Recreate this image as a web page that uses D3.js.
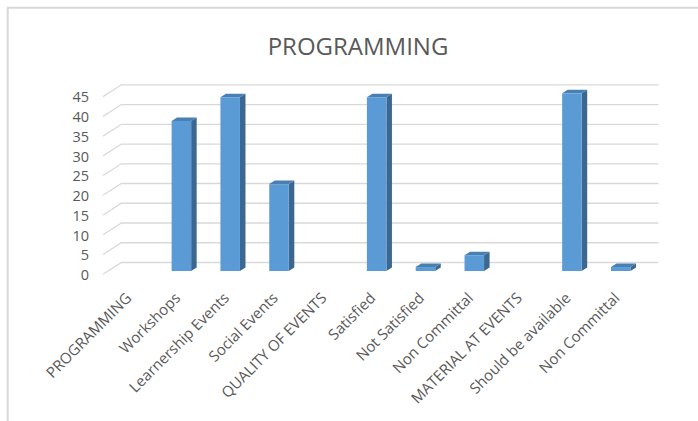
<!DOCTYPE html>
<html>
<head>
<meta charset="utf-8">
<script src="https://cdn.jsdelivr.net/npm/d3@7"></script>
<style>
  html, body { margin: 0; padding: 0; background: #fff; }
  svg { display: block; }
  text { font-family: "Open Sans", "Noto Sans", sans-serif; fill: #595959; }
</style>
</head>
<body>
<div id="chart"></div>
<script>
(function() {
    "use strict";

    // chart data
    var categories = [
        "PROGRAMMING", "Workshops", "Learnership Events", "Social Events",
        "QUALITY OF EVENTS", "Satisfied", "Not Satisfied", "Non Committal",
        "MATERIAL AT EVENTS", "Should be available", "Non Committal "
    ];
    var values = [null, 38, 44, 22, null, 44, 1, 4, null, 45, 1];
    var yTicks = [0, 5, 10, 15, 20, 25, 30, 35, 40, 45];
    var title = "PROGRAMMING";

    var width = 698, height = 421;

    // 3D wall depth offset
    var depthX = 18.4, depthY = -11.8;
    var barFront = 0.28, barBack = 0.58;

    var svg = d3.select("#chart").append("svg")
        .attr("width", width)
        .attr("height", height);

    // chart border
    svg.append("path")
        .attr("d", "M7.7,421 L7.7,7.7 L698,7.7")
        .attr("fill", "none")
        .attr("stroke", "#d9d9d9")
        .attr("stroke-width", 2);

    var x = d3.scaleBand()
        .domain(d3.range(categories.length))
        .range([103, 640])
        .paddingInner(0.6)
        .paddingOuter(0.3);

    var y = d3.scaleLinear()
        .domain([0, 45])
        .range([274.3, 96.6]);

    // gridlines: side wall diagonal + back wall horizontal
    var grid = svg.append("g").attr("class", "grid");
    grid.selectAll("path")
        .data(yTicks)
        .join("path")
        .attr("fill", "none")
        .attr("stroke", "#d9d9d9")
        .attr("stroke-width", 1.3)
        .attr("d", function(d) {
            var fy = y(d);
            return "M103," + fy + " L" + (103 + depthX) + "," + (fy + depthY) +
                " L" + (640 + depthX) + "," + (fy + depthY);
        });

    // y axis labels
    svg.append("g")
        .selectAll("text")
        .data(yTicks)
        .join("text")
        .attr("x", 89)
        .attr("y", function(d) { return y(d); })
        .attr("dy", "0.4em")
        .attr("text-anchor", "end")
        .style("font-size", "14.5px")
        .text(function(d) { return d; });

    // bars
    var bw = x.bandwidth();
    var fdx = barFront * depthX, fdy = barFront * depthY;
    var bdx = (barBack - barFront) * depthX, bdy = (barBack - barFront) * depthY;

    var barData = values.map(function(v, i) { return { i: i, v: v }; })
        .filter(function(d) { return d.v != null; });

    var bars = svg.append("g").attr("class", "bars")
        .selectAll("g")
        .data(barData)
        .join("g");

    bars.append("path")
        .attr("fill", "#3b6790")
        .attr("d", function(d) {
            var x1 = x(d.i) + fdx + bw, y0 = y(0) + fdy, y1 = y(d.v) + fdy;
            return "M" + x1 + "," + y0 + " L" + x1 + "," + y1 +
                " L" + (x1 + bdx) + "," + (y1 + bdy) + " L" + (x1 + bdx) + "," + (y0 + bdy) + "Z";
        });

    bars.append("path")
        .attr("fill", "#4a7fb4")
        .attr("d", function(d) {
            var x0 = x(d.i) + fdx, x1 = x0 + bw, y1 = y(d.v) + fdy;
            return "M" + x0 + "," + y1 + " L" + x1 + "," + y1 +
                " L" + (x1 + bdx) + "," + (y1 + bdy) + " L" + (x0 + bdx) + "," + (y1 + bdy) + "Z";
        });

    bars.append("rect")
        .attr("fill", "#5b9bd5")
        .attr("x", function(d) { return x(d.i) + fdx; })
        .attr("y", function(d) { return y(d.v) + fdy; })
        .attr("width", bw)
        .attr("height", function(d) { return y(0) - y(d.v); });

    // category labels, rotated
    svg.append("g")
        .selectAll("text")
        .data(categories)
        .join("text")
        .attr("text-anchor", "end")
        .attr("transform", function(d, i) {
            var cx = x(i) + bw / 2 + 5;
            return "translate(" + cx + ",299) rotate(-45)";
        })
        .style("font-size", "15px")
        .text(function(d) { return d.trim(); });

    // title
    svg.append("text")
        .attr("x", 358)
        .attr("y", 55)
        .attr("text-anchor", "middle")
        .style("font-size", "24px")
        .text(title);
})();
</script>
</body>
</html>
